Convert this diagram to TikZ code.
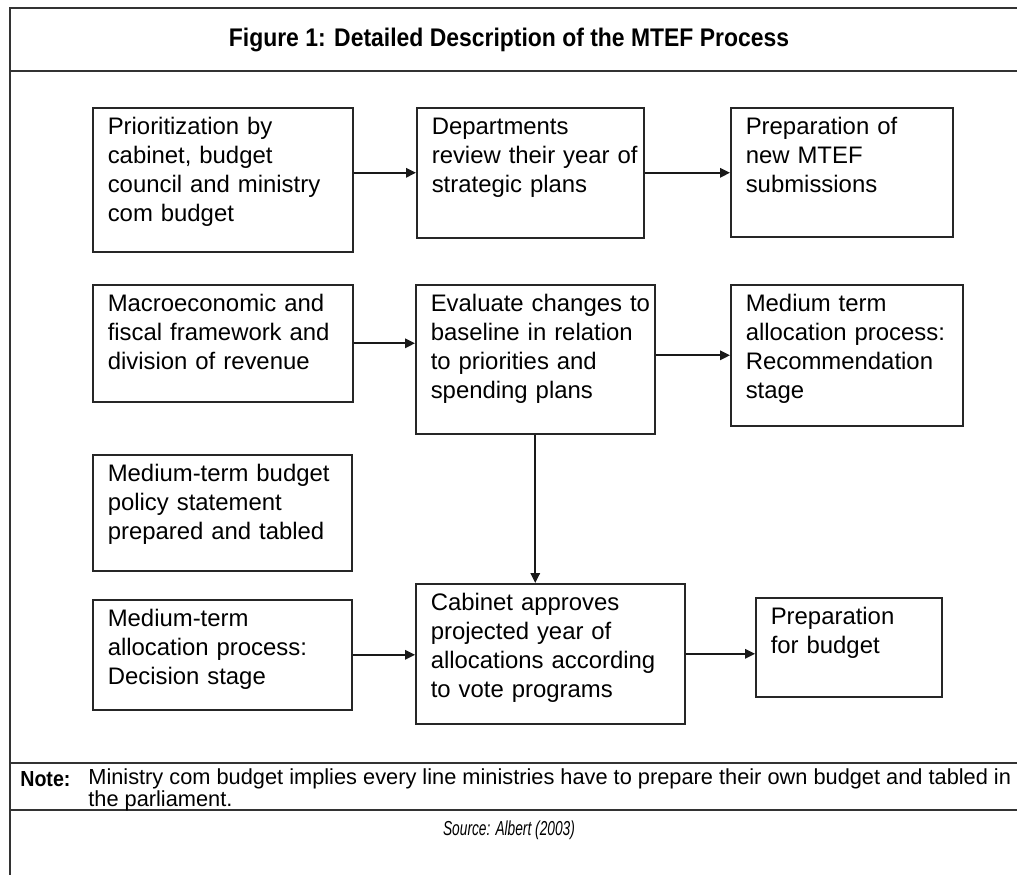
\documentclass[tikz,border=0pt]{standalone}
\usepackage{fontspec}
\setmainfont{Liberation Sans}
\newfontfamily\boxfont{Liberation Sans}
\newfontfamily\titlefont[FakeStretch=0.9]{Liberation Sans}
\newfontfamily\notefont[FakeStretch=0.9]{Liberation Sans}
\newfontfamily\condfont[FakeStretch=0.68]{Liberation Sans}
\usetikzlibrary{arrows.meta}
\usetikzlibrary{positioning}

\tikzset{
  proc/.style={draw=black!85, line width=0.9pt, anchor=north west, align=left,
    inner xsep=0.3cm, inner ysep=0.12cm, text height=0.42cm,
    font=\boxfont\fontsize{13.6}{16.5}\selectfont},
  arr/.style={-{Triangle[length=0.2cm,width=0.19cm]}, line width=0.9pt, black!90},
  rule/.style={line width=1pt, draw=black!80}
}

\begin{document}
\begin{tikzpicture}[x=0.02cm, y=-0.02cm]
  \useasboundingbox (0,0) rectangle (1017,875);

  % frame of the figure
  \draw[rule] (1017,8) -- (10,8) -- (10,875);
  \draw[rule] (10,71) -- (1017,71);
  \draw[rule] (10,763) -- (1017,763);
  \draw[rule] (10,810) -- (1017,810);

  \node[font=\titlefont\bfseries\fontsize{14.5}{16}\selectfont] (title) at (509,40)
    {Figure 1: Detailed Description of the MTEF Process};

  % first row
  \node[proc, text width=4.60cm, text depth=2.22cm] (prio) at (92,107)
    {Prioritization by\\cabinet, budget\\council and ministry\\com budget};
  \node[proc, text width=3.94cm, text depth=1.94cm] (dept) at (416,107)
    {Departments\\review~their~year~of\\strategic plans};
  \node[proc, text width=3.84cm, text depth=1.92cm] (newmtef) at (730,107)
    {Preparation of\\new MTEF\\submissions};

  % second row
  \node[proc, text width=4.60cm, text depth=1.68cm] (macro) at (92,284)
    {Macroeconomic and\\fiscal framework and\\division of revenue};
  \node[proc, text width=4.18cm, text depth=2.32cm] (evalbase) at (415,284)
    {Evaluate~changes~to\\baseline~in~relation\\to priorities and\\spending plans};
  \node[proc, text width=4.04cm, text depth=2.16cm] (medrec) at (730,284)
    {Medium term\\allocation process:\\Recommendation\\stage};

  % left column, lower part
  \node[proc, text width=4.58cm, text depth=1.66cm] (policy) at (92,454)
    {Medium-term budget\\policy statement\\prepared and tabled};
  \node[proc, text width=4.58cm, text depth=1.54cm] (decision) at (92,599)
    {Medium-term\\allocation process:\\Decision stage};

  % last row
  \node[proc, text width=4.78cm, text depth=2.14cm] (cabinet) at (415,583)
    {Cabinet approves\\projected year of\\allocations~according\\to vote programs};
  \node[proc, text width=3.12cm, text depth=1.32cm] (prepbud) at (755,597)
    {Preparation\\for budget};

  \path[arr]
  (prio.east |- dept.west) edge (dept.west)
  (dept.east) edge (dept.east -| newmtef.west)
  (macro.east) edge (macro.east -| evalbase.west)
  (evalbase.east |- medrec.west) edge (medrec.west)
  (evalbase.south) edge (evalbase.south |- cabinet.north)
  (decision.east) edge (decision.east -| cabinet.west)
  (cabinet.east) edge (cabinet.east -| prepbud.west);

  % note and source
  \node[anchor=west, inner sep=0pt, font=\notefont\bfseries\fontsize{12.4}{12}\selectfont]
    (notehead) at (20,779) {Note:};
  \node[anchor=north west, inner sep=0pt, align=left, font=\fontsize{12.4}{12.6}\selectfont]
    (notebody) at (88,768)
    {Ministry com budget implies every line ministries have to prepare their own budget and tabled in\\the parliament.};
  \node[font=\condfont\itshape\fontsize{11.5}{13}\selectfont] (source) at (509,830)
    {Source: Albert (2003)};
\end{tikzpicture}
\end{document}
